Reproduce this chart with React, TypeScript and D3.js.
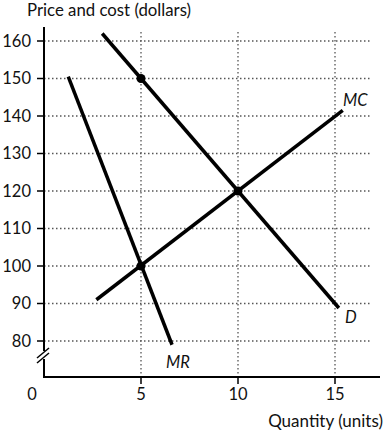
import React from "react";
import * as d3 from "d3";

const W = 386, H = 436;
const yTicks = [80, 90, 100, 110, 120, 130, 140, 150, 160];
const xTicks = [5, 10, 15];
const demand: [number, number][] = [[3.0, 162], [15.2, 88.8]];
const marginalRevenue: [number, number][] = [[1.25, 150.5], [6.6, 79]];
const marginalCost: [number, number][] = [[2.7, 91], [15.4, 141.5]];
const points: [number, number][] = [[5, 150], [10, 120], [5, 100]];

const x = d3.scaleLinear().domain([0, 15]).range([44, 335]);
const y = d3.scaleLinear().domain([80, 160]).range([341, 41]);
const line = d3.line<[number, number]>().x(d => x(d[0])).y(d => y(d[1]));

export default function App() {
  const font = "Lato, 'Open Sans', sans-serif";
  const axisY = 377;
  return (
    <svg width={W} height={H} style={{ position: "absolute", left: 0, top: 0, background: "#fff" }} fontFamily={font}>
      {yTicks.map(t => (
        <line key={"h" + t} x1={44} x2={372} y1={y(t)} y2={y(t)} stroke="#555" strokeWidth={1.3} strokeDasharray="1.5,2.5" />
      ))}
      {xTicks.map(t => (
        <line key={"v" + t} x1={x(t)} x2={x(t)} y1={32} y2={axisY} stroke="#555" strokeWidth={1.3} strokeDasharray="1.5,2.5" />
      ))}
      <line x1={44} x2={44} y1={27} y2={axisY} stroke="#000" strokeWidth={2} />
      <line x1={43} x2={380} y1={axisY} y2={axisY} stroke="#000" strokeWidth={2} />
      <rect x={38} y={351} width={12} height={8} fill="#fff" />
      <line x1={37} x2={49} y1={358} y2={348} stroke="#000" strokeWidth={1.5} />
      <line x1={37} x2={49} y1={363} y2={353} stroke="#000" strokeWidth={1.5} />
      {yTicks.map(t => (
        <g key={"yt" + t}>
          <line x1={37} x2={44} y1={y(t)} y2={y(t)} stroke="#000" strokeWidth={1.5} />
          <text x={31} y={y(t) + 5.5} fontSize={16.5} textAnchor="end" fill="#111">{t}</text>
        </g>
      ))}
      {xTicks.map(t => (
        <g key={"xt" + t}>
          <line x1={x(t)} x2={x(t)} y1={axisY} y2={axisY + 7} stroke="#000" strokeWidth={1.5} />
          <text x={x(t)} y={400} fontSize={16.5} textAnchor="middle" fill="#111">{t}</text>
        </g>
      ))}
      <text x={32} y={400} fontSize={16.5} textAnchor="middle" fill="#111">0</text>
      <path d={line(demand) || ""} stroke="#000" strokeWidth={3.5} fill="none" />
      <path d={line(marginalRevenue) || ""} stroke="#000" strokeWidth={3.5} fill="none" />
      <path d={line(marginalCost) || ""} stroke="#000" strokeWidth={3.5} fill="none" />
      {points.map((p, i) => (
        <circle key={i} cx={x(p[0])} cy={y(p[1])} r={4.5} fill="#000" />
      ))}
      <text x={343} y={106} fontSize={16.5} fontStyle="italic" fill="#111">MC</text>
      <text x={345} y={323} fontSize={16.5} fontStyle="italic" fill="#111">D</text>
      <text x={166} y={368} fontSize={16.5} fontStyle="italic" fill="#111">MR</text>
      <text x={27} y={16} fontSize={16.8} fill="#111">Price and cost (dollars)</text>
      <text x={383} y={427} fontSize={17} textAnchor="end" fill="#111">Quantity (units)</text>
    </svg>
  );
}
